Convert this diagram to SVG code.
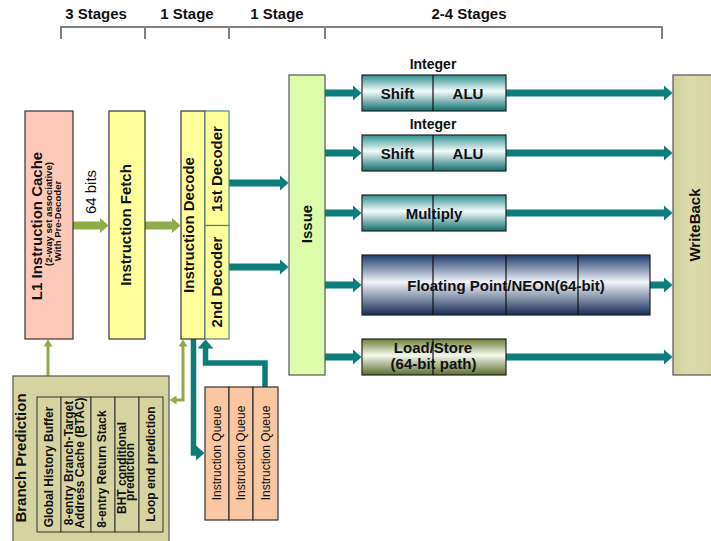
<svg xmlns="http://www.w3.org/2000/svg" width="711" height="541" viewBox="0 0 711 541">
  <style>
    text { font-family: 'Liberation Sans', Arial, Helvetica, sans-serif; text-anchor: middle; fill: #111; }
    .bold { font-weight: bold; }
    .f15 { font-size: 15px; }
    .f14 { font-size: 14px; }
    .f12 { font-size: 12px; }
    .f10 { font-size: 9.6px; }
    .reg { font-weight: normal; }
    .box { stroke: #333; stroke-width: 1.2; }
    .cell { stroke: #222; stroke-width: 1.2; }
    .div { stroke: #111; stroke-width: 1.2; }
    .teal { fill: none; stroke: #0b7e7b; stroke-width: 7; }
    .tealthin { fill: none; stroke: #0b7e7b; stroke-width: 5.5; }
    .green { fill: none; stroke: #8fac4b; stroke-width: 8; }
    .greenthin { fill: none; stroke: #8fac4b; stroke-width: 3; }
    .bracket { fill: none; stroke: #808080; stroke-width: 2; }
  </style>
  <defs>
    <marker id="headTeal" markerUnits="userSpaceOnUse" markerWidth="9" markerHeight="16" refX="0.5" refY="8" orient="auto">
      <path d="M0,0 L9,8 L0,16 Z" fill="#0b7e7b"/>
    </marker>
    <marker id="headGreen" markerUnits="userSpaceOnUse" markerWidth="9" markerHeight="16" refX="0.5" refY="8" orient="auto">
      <path d="M0,0 L9,8 L0,16 Z" fill="#8fac4b"/>
    </marker>
    <marker id="headGreenSmall" markerUnits="userSpaceOnUse" markerWidth="7" markerHeight="9" refX="0.5" refY="4.5" orient="auto-start-reverse">
      <path d="M0,0 L7,4.5 L0,9 Z" fill="#8fac4b"/>
    </marker>
    <linearGradient id="gTeal" x1="0" y1="0" x2="0" y2="1">
      <stop offset="0" stop-color="#2f908d"/>
      <stop offset="0.45" stop-color="#f4fbfb"/>
      <stop offset="1" stop-color="#0f6f6c"/>
    </linearGradient>
    <linearGradient id="gNavy" x1="0" y1="0" x2="0" y2="1">
      <stop offset="0" stop-color="#1f3a6a"/>
      <stop offset="0.45" stop-color="#f2f4f8"/>
      <stop offset="1" stop-color="#142c58"/>
    </linearGradient>
    <linearGradient id="gOlive" x1="0" y1="0" x2="0" y2="1">
      <stop offset="0" stop-color="#6d7f34"/>
      <stop offset="0.45" stop-color="#f5f8ee"/>
      <stop offset="1" stop-color="#5c6e2a"/>
    </linearGradient>
    <linearGradient id="gKhaki" x1="0" y1="0" x2="1" y2="0">
      <stop offset="0" stop-color="#d0cf9c"/>
      <stop offset="0.4" stop-color="#dcdbab"/>
      <stop offset="1" stop-color="#d5d4a2"/>
    </linearGradient>
  </defs>

  <rect width="711" height="541" fill="#ffffff"/>

  <!-- pipeline stage ruler -->
  <g id="stages">
    <path class="bracket" d="M61,39 V27 H662 V39 M145,27 V39 M229,27 V39 M325,27 V39"/>
    <text class="bold f15" x="96" y="19">3 Stages</text>
    <text class="bold f15" x="187" y="19">1 Stage</text>
    <text class="bold f15" x="277" y="19">1 Stage</text>
    <text class="bold f15" x="469" y="19">2-4 Stages</text>
  </g>

  <!-- connectors -->
  <g id="connectors">
    <path class="green" d="M73,225.5 H100" marker-end="url(#headGreen)"/>
    <path class="green" d="M145,225.5 H172" marker-end="url(#headGreen)"/>
    <path class="greenthin" d="M48,376 V346" marker-end="url(#headGreenSmall)"/>
    <path class="greenthin" d="M183,346 V400 H176" marker-start="url(#headGreenSmall)" marker-end="url(#headGreenSmall)"/>

    <path class="teal" d="M229,183 H280" marker-end="url(#headTeal)"/>
    <path class="teal" d="M229,267 H280" marker-end="url(#headTeal)"/>
    <path class="tealthin" d="M193.5,339 V453 H196" marker-end="url(#headTeal)"/>
    <path class="tealthin" d="M265,387 V363 H205.5 V348" marker-end="url(#headTeal)"/>

    <path class="teal" d="M325,93 H353" marker-end="url(#headTeal)"/>
    <path class="teal" d="M325,153 H353" marker-end="url(#headTeal)"/>
    <path class="teal" d="M325,213 H353" marker-end="url(#headTeal)"/>
    <path class="teal" d="M325,285 H353" marker-end="url(#headTeal)"/>
    <path class="teal" d="M325,357 H353" marker-end="url(#headTeal)"/>

    <path class="teal" d="M506,93 H664" marker-end="url(#headTeal)"/>
    <path class="teal" d="M506,153 H664" marker-end="url(#headTeal)"/>
    <path class="teal" d="M506,213 H664" marker-end="url(#headTeal)"/>
    <path class="teal" d="M650,285 H664" marker-end="url(#headTeal)"/>
    <path class="teal" d="M506,357 H664" marker-end="url(#headTeal)"/>
  </g>

  <!-- L1 instruction cache -->
  <g id="l1-cache">
    <rect class="box" x="25" y="111" width="48" height="228" fill="#ffc9b9"/>
    <text class="bold f15" transform="translate(37,226) rotate(-90)" y="5.3">L1 Instruction Cache</text>
    <text class="bold f10" transform="translate(49,214) rotate(-90)" y="3.4">(2-way set associative)</text>
    <text class="bold f10" transform="translate(58,221) rotate(-90)" y="3.4">With Pre-Decoder</text>
  </g>

  <text class="reg f15" transform="translate(91,192) rotate(-90)" y="5.3">64 bits</text>

  <!-- instruction fetch -->
  <g id="fetch">
    <rect class="box" x="109" y="111" width="36" height="228" fill="#ffff9c"/>
    <text class="bold f15" transform="translate(125.5,225) rotate(-90)" y="5.3">Instruction Fetch</text>
  </g>

  <!-- instruction decode with two decoders -->
  <g id="decode">
    <rect class="box" x="181" y="111" width="24" height="228" fill="#ffff9c"/>
    <text class="bold f15" transform="translate(188.5,225) rotate(-90)" y="5.3">Instruction Decode</text>
  </g>
  <g id="decoder-1">
    <rect x="205" y="111" width="24" height="114.5" fill="#ffff9c" stroke="#4f8585" stroke-width="1.2"/>
    <text class="bold f15" transform="translate(217,169) rotate(-90)" y="5.3">1st Decoder</text>
  </g>
  <g id="decoder-2">
    <rect x="205" y="225.5" width="24" height="113.5" fill="#ffff9c" stroke="#4f8585" stroke-width="1.2"/>
    <text class="bold f15" transform="translate(217,282) rotate(-90)" y="5.3">2nd Decoder</text>
  </g>

  <!-- issue -->
  <g id="issue">
    <rect x="289" y="75" width="36" height="300" fill="#ddfca9" stroke="#555" stroke-width="1.2"/>
    <text class="bold f15" transform="translate(307,224) rotate(-90)" y="5.3">Issue</text>
  </g>

  <!-- execution units -->
  <g id="integer-1">
    <text class="bold f14" x="433" y="69">Integer</text>
    <rect class="cell" x="362" y="75" width="144" height="36" fill="url(#gTeal)"/>
    <line class="div" x1="433" y1="75" x2="433" y2="111"/>
    <text class="bold f15" x="397.5" y="98.5">Shift</text>
    <text class="bold f15" x="468" y="98.5">ALU</text>
  </g>
  <g id="integer-2">
    <text class="bold f14" x="433" y="129">Integer</text>
    <rect class="cell" x="362" y="135" width="144" height="36" fill="url(#gTeal)"/>
    <line class="div" x1="433" y1="135" x2="433" y2="171"/>
    <text class="bold f15" x="397.5" y="158.5">Shift</text>
    <text class="bold f15" x="468" y="158.5">ALU</text>
  </g>
  <g id="multiply">
    <rect class="cell" x="362" y="195" width="144" height="36" fill="url(#gTeal)"/>
    <line class="div" x1="433" y1="195" x2="433" y2="231"/>
    <text class="bold f15" x="434" y="218.5">Multiply</text>
  </g>
  <g id="fp-neon">
    <rect class="cell" x="362" y="255" width="288" height="60" fill="url(#gNavy)"/>
    <line class="div" x1="433" y1="255" x2="433" y2="315"/>
    <line class="div" x1="506" y1="255" x2="506" y2="315"/>
    <line class="div" x1="578" y1="255" x2="578" y2="315"/>
    <text class="bold f15" x="506" y="290.5">Floating Point/NEON(64-bit)</text>
  </g>
  <g id="load-store">
    <rect class="cell" x="362" y="339" width="144" height="36" fill="url(#gOlive)"/>
    <line class="div" x1="433" y1="339" x2="433" y2="375"/>
    <text class="bold f15" x="433" y="353">Load/Store</text>
    <text class="bold f15" x="433.5" y="368.5">(64-bit path)</text>
  </g>

  <!-- write back -->
  <g id="writeback">
    <rect x="673" y="75" width="42" height="300" fill="url(#gKhaki)" stroke="#555" stroke-width="1.2"/>
    <text class="bold f15" transform="translate(695,225) rotate(-90)" y="5.3">WriteBack</text>
  </g>

  <!-- branch prediction -->
  <g id="branch-prediction">
    <rect x="13" y="376" width="156" height="170" fill="#d5d4a1" stroke="#555" stroke-width="1.2"/>
    <text class="bold f15" transform="translate(21,458) rotate(-90)" y="5.3">Branch Prediction</text>
    <g fill="#d5d4a1" stroke="#333" stroke-width="1">
      <rect x="37" y="397" width="24" height="135"/>
      <rect x="61" y="397" width="30" height="135"/>
      <rect x="91" y="397" width="24" height="135"/>
      <rect x="115" y="397" width="24" height="135"/>
      <rect x="139" y="397" width="24" height="135"/>
    </g>
    <text class="bold f12" transform="translate(48.5,467) rotate(-90)" y="4.2">Global History Buffer</text>
    <text class="bold f12" transform="translate(69,463) rotate(-90)" y="4.2">8-entry Branch-Target</text>
    <text class="bold f12" transform="translate(80,463) rotate(-90)" y="4.2">Address Cache (BTAC)</text>
    <text class="bold f12" transform="translate(102,469) rotate(-90)" y="4.2">8-entry Return Stack</text>
    <text class="bold f12" transform="translate(121.5,468) rotate(-90)" y="4.2">BHT conditional</text>
    <text class="bold f12" transform="translate(130,472) rotate(-90)" y="4.2">prediction</text>
    <text class="bold f12" transform="translate(150.5,464) rotate(-90)" y="4.2">Loop end prediction</text>
  </g>

  <!-- instruction queues -->
  <g id="queue-1">
    <rect class="box" x="205" y="387" width="24" height="133" fill="#f9c8a2"/>
    <text class="reg f12" transform="translate(217,453) rotate(-90)" y="4.2">Instruction Queue</text>
  </g>
  <g id="queue-2">
    <rect class="box" x="229" y="387" width="24" height="133" fill="#f9c8a2"/>
    <text class="reg f12" transform="translate(241,453) rotate(-90)" y="4.2">Instruction Queue</text>
  </g>
  <g id="queue-3">
    <rect class="box" x="253" y="387" width="25" height="133" fill="#f9c8a2"/>
    <text class="reg f12" transform="translate(265.5,453) rotate(-90)" y="4.2">Instruction Queue</text>
  </g>
</svg>
